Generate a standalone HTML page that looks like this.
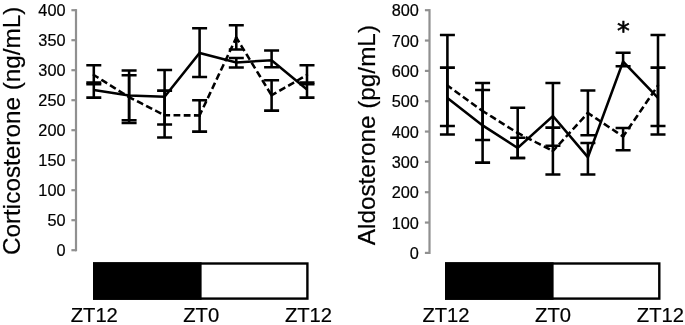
<!DOCTYPE html>
<html lang="en"><head><meta charset="utf-8"><title>Corticosterone and Aldosterone</title>
<style>
html,body{margin:0;padding:0;background:#fff;}
body{width:685px;height:325px;overflow:hidden;}
svg{display:block;}
.t{stroke:#000;stroke-width:0.2px;}
</style></head><body>
<svg width="685" height="325" viewBox="0 0 685 325" font-family="'Liberation Sans', Arial, Helvetica, sans-serif" fill="#000">
<rect width="685" height="325" fill="#fff"/>
<path d="M76.0 9.1V251.29999999999998" stroke="#909090" stroke-width="2.2" fill="none"/>
<path d="M71.4 10.20H76.0" stroke="#909090" stroke-width="2.2" fill="none"/>
<text x="65.5" y="16.20" text-anchor="end" font-size="16.3" class="t">400</text>
<path d="M71.4 40.20H76.0" stroke="#909090" stroke-width="2.2" fill="none"/>
<text x="65.5" y="46.20" text-anchor="end" font-size="16.3" class="t">350</text>
<path d="M71.4 70.20H76.0" stroke="#909090" stroke-width="2.2" fill="none"/>
<text x="65.5" y="76.20" text-anchor="end" font-size="16.3" class="t">300</text>
<path d="M71.4 100.20H76.0" stroke="#909090" stroke-width="2.2" fill="none"/>
<text x="65.5" y="106.20" text-anchor="end" font-size="16.3" class="t">250</text>
<path d="M71.4 130.20H76.0" stroke="#909090" stroke-width="2.2" fill="none"/>
<text x="65.5" y="136.20" text-anchor="end" font-size="16.3" class="t">200</text>
<path d="M71.4 160.20H76.0" stroke="#909090" stroke-width="2.2" fill="none"/>
<text x="65.5" y="166.20" text-anchor="end" font-size="16.3" class="t">150</text>
<path d="M71.4 190.20H76.0" stroke="#909090" stroke-width="2.2" fill="none"/>
<text x="65.5" y="196.20" text-anchor="end" font-size="16.3" class="t">100</text>
<path d="M71.4 220.20H76.0" stroke="#909090" stroke-width="2.2" fill="none"/>
<text x="65.5" y="226.20" text-anchor="end" font-size="16.3" class="t">50</text>
<path d="M71.4 250.20H76.0" stroke="#909090" stroke-width="2.2" fill="none"/>
<text x="65.5" y="256.20" text-anchor="end" font-size="16.3" class="t">0</text>
<path d="M429.5 9.1V254.0" stroke="#909090" stroke-width="2.2" fill="none"/>
<path d="M424.9 10.20H429.5" stroke="#909090" stroke-width="2.2" fill="none"/>
<text x="418.8" y="16.20" text-anchor="end" font-size="16.3" class="t">800</text>
<path d="M424.9 40.54H429.5" stroke="#909090" stroke-width="2.2" fill="none"/>
<text x="418.8" y="46.54" text-anchor="end" font-size="16.3" class="t">700</text>
<path d="M424.9 70.88H429.5" stroke="#909090" stroke-width="2.2" fill="none"/>
<text x="418.8" y="76.88" text-anchor="end" font-size="16.3" class="t">600</text>
<path d="M424.9 101.21H429.5" stroke="#909090" stroke-width="2.2" fill="none"/>
<text x="418.8" y="107.21" text-anchor="end" font-size="16.3" class="t">500</text>
<path d="M424.9 131.55H429.5" stroke="#909090" stroke-width="2.2" fill="none"/>
<text x="418.8" y="137.55" text-anchor="end" font-size="16.3" class="t">400</text>
<path d="M424.9 161.89H429.5" stroke="#909090" stroke-width="2.2" fill="none"/>
<text x="418.8" y="167.89" text-anchor="end" font-size="16.3" class="t">300</text>
<path d="M424.9 192.22H429.5" stroke="#909090" stroke-width="2.2" fill="none"/>
<text x="418.8" y="198.22" text-anchor="end" font-size="16.3" class="t">200</text>
<path d="M424.9 222.56H429.5" stroke="#909090" stroke-width="2.2" fill="none"/>
<text x="418.8" y="228.56" text-anchor="end" font-size="16.3" class="t">100</text>
<path d="M424.9 252.90H429.5" stroke="#909090" stroke-width="2.2" fill="none"/>
<text x="418.8" y="258.90" text-anchor="end" font-size="16.3" class="t">0</text>
<text transform="translate(20.4 130.8) rotate(-90)" text-anchor="middle" font-size="24.3" class="t">Corticosterone (ng/mL)</text>
<text transform="translate(375 135.1) rotate(-90)" text-anchor="middle" font-size="24.3" class="t">Aldosterone (pg/mL)</text>
<g stroke="#000" stroke-width="2.55" fill="none" stroke-linejoin="miter">
<path d="M93.80 82.40V97.60M86.30 82.40H101.30M86.30 97.60H101.30"/>
<path d="M93.80 65.20V84.30M86.30 65.20H101.30M86.30 84.30H101.30"/>
<path d="M129.10 70.40V120.20M121.60 70.40H136.60M121.60 120.20H136.60"/>
<path d="M129.10 75.20V122.90M121.60 75.20H136.60M121.60 122.90H136.60"/>
<path d="M164.60 70.00V124.40M157.10 70.00H172.10M157.10 124.40H172.10"/>
<path d="M164.60 90.60V137.40M157.10 90.60H172.10M157.10 137.40H172.10"/>
<path d="M199.60 28.20V77.00M192.10 28.20H207.10M192.10 77.00H207.10"/>
<path d="M199.60 100.30V131.60M192.10 100.30H207.10M192.10 131.60H207.10"/>
<path d="M236.30 58.00V67.50M228.80 58.00H243.80M228.80 67.50H243.80"/>
<path d="M236.30 25.30V49.40M228.80 25.30H243.80M228.80 49.40H243.80"/>
<path d="M271.60 50.50V67.30M264.10 50.50H279.10M264.10 67.30H279.10"/>
<path d="M271.60 80.30V110.60M264.10 80.30H279.10M264.10 110.60H279.10"/>
<path d="M307.00 82.40V97.60M299.50 82.40H314.50M299.50 97.60H314.50"/>
<path d="M307.00 65.20V84.30M299.50 65.20H314.50M299.50 84.30H314.50"/>
<polyline points="93.80,90.00 129.10,95.60 164.60,96.80 199.60,53.00 236.30,62.50 271.60,60.20 307.00,89.50" fill="none"/>
<clipPath id="c93"><rect x="92.52" y="0" width="215.75" height="260"/></clipPath>
<g stroke-dasharray="4.25 5.95" stroke-linecap="square" clip-path="url(#c93)">
<line x1="93.80" y1="75.00" x2="129.10" y2="97.10"/>
<line x1="129.10" y1="97.10" x2="164.60" y2="115.30"/>
<line x1="164.60" y1="115.30" x2="199.60" y2="115.40"/>
<line x1="199.60" y1="115.40" x2="236.30" y2="37.60"/>
<line x1="236.30" y1="37.60" x2="271.60" y2="95.30"/>
<line x1="271.60" y1="95.30" x2="307.00" y2="75.00"/>
</g>
<path d="M447.40 67.60V126.00M439.90 67.60H454.90M439.90 126.00H454.90"/>
<path d="M447.40 35.00V134.40M439.90 35.00H454.90M439.90 134.40H454.90"/>
<path d="M482.60 90.00V162.60M475.10 90.00H490.10M475.10 162.60H490.10"/>
<path d="M482.60 83.00V140.00M475.10 83.00H490.10M475.10 140.00H490.10"/>
<path d="M517.70 137.70V157.90M510.20 137.70H525.20M510.20 157.90H525.20"/>
<path d="M517.70 107.80V157.90M510.20 107.80H525.20M510.20 157.90H525.20"/>
<path d="M552.90 83.00V145.70M545.40 83.00H560.40M545.40 145.70H560.40"/>
<path d="M552.90 127.60V174.40M545.40 127.60H560.40M545.40 174.40H560.40"/>
<path d="M587.90 142.90V174.40M580.40 142.90H595.40M580.40 174.40H595.40"/>
<path d="M587.90 90.40V135.20M580.40 90.40H595.40M580.40 135.20H595.40"/>
<path d="M623.10 52.70V66.20M615.60 52.70H630.60M615.60 66.20H630.60"/>
<path d="M623.10 128.00V150.30M615.60 128.00H630.60M615.60 150.30H630.60"/>
<path d="M658.00 67.60V126.00M650.50 67.60H665.50M650.50 126.00H665.50"/>
<path d="M658.00 35.00V134.40M650.50 35.00H665.50M650.50 134.40H665.50"/>
<polyline points="447.40,98.00 482.60,125.40 517.70,148.00 552.90,116.00 587.90,157.20 623.10,61.50 658.00,97.80" fill="none"/>
<clipPath id="c447"><rect x="446.12" y="0" width="213.15" height="260"/></clipPath>
<g stroke-dasharray="4.25 5.95" stroke-linecap="square" clip-path="url(#c447)">
<line x1="447.40" y1="85.50" x2="482.60" y2="111.00"/>
<line x1="482.60" y1="111.00" x2="517.70" y2="133.00"/>
<line x1="517.70" y1="133.00" x2="552.90" y2="151.00"/>
<line x1="552.90" y1="151.00" x2="587.90" y2="113.00"/>
<line x1="587.90" y1="113.00" x2="623.10" y2="136.50"/>
<line x1="623.10" y1="136.50" x2="658.00" y2="85.50"/>
</g>
</g>
<rect x="94.20" y="263.50" width="213.20" height="35.10" fill="#fff" stroke="#000" stroke-width="2.4"/><rect x="93" y="262.3" width="108.6" height="37.5" fill="#000"/>
<rect x="446.20" y="263.50" width="213.10" height="35.10" fill="#fff" stroke="#000" stroke-width="2.4"/><rect x="445" y="262.3" width="108.60000000000002" height="37.5" fill="#000"/>
<text x="94.3" y="321.5" text-anchor="middle" font-size="20.2" class="t">ZT12</text>
<text x="201.2" y="321.5" text-anchor="middle" font-size="20.2" class="t">ZT0</text>
<text x="308.5" y="321.5" text-anchor="middle" font-size="20.2" class="t">ZT12</text>
<text x="446" y="321.5" text-anchor="middle" font-size="20.2" class="t">ZT12</text>
<text x="553" y="321.5" text-anchor="middle" font-size="20.2" class="t">ZT0</text>
<text x="660.4" y="321.5" text-anchor="middle" font-size="20.2" class="t">ZT12</text>
<text x="623.3" y="39.1" text-anchor="middle" font-size="25.6" stroke="#000" stroke-width="0.6" font-family="'DejaVu Sans', sans-serif">*</text>
</svg>
</body></html>
